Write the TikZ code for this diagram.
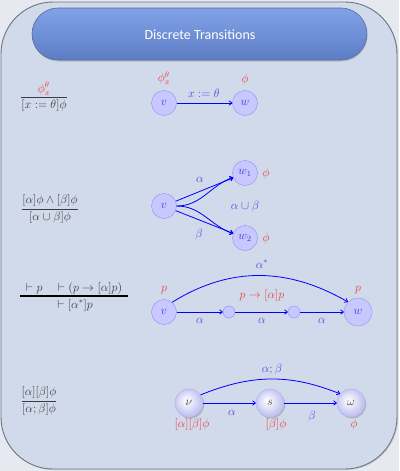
\documentclass[tikz,border=0pt]{standalone}
\usepackage{amsmath}
\usepackage{fontspec}
\newfontfamily\titlefont{Carlito}
\usetikzlibrary{shadows,arrows.meta}
\definecolor{bgout}{HTML}{E6E9F0}
\definecolor{panelfill}{HTML}{D0DAEA}
\definecolor{panelline}{HTML}{6E7480}
\definecolor{titletop}{HTML}{82A2E8}
\definecolor{titlebot}{HTML}{5C7CC4}
\definecolor{titleline}{HTML}{5A6C98}
\definecolor{stfill}{HTML}{C8C8FF}
\definecolor{stdraw}{HTML}{8C8CFF}
\definecolor{sttext}{HTML}{3A3AE0}
\definecolor{lblue}{HTML}{4A4AE6}
\definecolor{lred}{HTML}{F03C3C}
\definecolor{frmcol}{HTML}{3C3C3C}
\definecolor{ballmid}{HTML}{E8E8FA}
\definecolor{ballout}{HTML}{C4C4F0}
\pgfdeclareradialshading{softball}{\pgfpoint{-5bp}{5bp}}{%
  color(0bp)=(white); color(10bp)=(ballmid); color(24bp)=(ballout); color(50bp)=(ballout)}
\tikzset{
  mfont/.style={font=\fontsize{12}{14}\selectfont},
  st/.style={circle, fill=stfill, draw=stdraw, minimum size=25pt, inner sep=0pt, text=sttext, mfont},
  smallst/.style={circle, fill=stfill, draw=stdraw, minimum size=12pt, inner sep=0pt},
  ballst/.style={circle, shading=softball, draw=stdraw!70, minimum size=28pt, inner sep=0pt, text=frmcol, mfont,
    drop shadow={shadow xshift=1.2pt, shadow yshift=-1.5pt, opacity=0.4}},
  edge/.style={draw=blue, line width=0.8pt, -{To[length=3.5pt,width=5pt]}},
  lbl/.style={text=lblue, mfont, inner sep=0pt},
  rlbl/.style={text=lred, mfont, inner sep=0pt},
  frm/.style={text=frmcol, mfont, inner sep=0pt},
}
\begin{document}
\begin{tikzpicture}[x=1pt,y=-1pt]
\useasboundingbox (0,0) rectangle (399,471);
\fill[bgout] (0,0) rectangle (399,471);
% panel
\draw[panelline, line width=0.9pt, fill=panelfill, rounded corners=52pt,
  drop shadow={shadow xshift=1pt, shadow yshift=-1pt, opacity=0.25}]
  (1,2) rectangle (397,469);
% title
\shade[top color=titletop, bottom color=titlebot, draw=titleline, line width=0.6pt,
  rounded corners=26pt, drop shadow={shadow xshift=0.5pt, shadow yshift=-1.5pt, opacity=0.35}]
  (32,8) rectangle (367,60);
\node[text=white, font=\titlefont\fontsize{14}{16}\selectfont] (title) at (200,35) {Discrete Transitions};

% ---------- Row 1 ----------
\node[frm] (f1) at (44,97) {$\dfrac{\textcolor{lred}{\phi^\theta_x}}{[x:=\theta]\phi}$};
\node[st] (v1) at (164,103) {$v$};
\node[st] (w1) at (245,103) {$w$};
\node[rlbl] (v1l) at (164,78) {$\phi^\theta_x$};
\node[rlbl] (w1l) at (245,79) {$\phi$};
\draw[edge] (v1) -- (w1);
\node[lbl] (e1l) at (204,93) {$x:=\theta$};

% ---------- Row 2 ----------
\node[frm] (f2) at (50,209) {$\dfrac{[\alpha]\phi\wedge[\beta]\phi}{[\alpha\cup\beta]\phi}$};
\node[st] (v2) at (164,206) {$v$};
\node[st] (w21) at (245,173) {$w_1$};
\node[st] (w22) at (245,238) {$w_2$};
\node[rlbl] (w21l) at (266,173) {$\phi$};
\node[rlbl] (w22l) at (266,238) {$\phi$};
\draw[edge] (v2) -- (w21);
\draw[edge] (v2) -- (w22);
\draw[edge] (v2.east) to[out=0,in=200] (w21.200);
\draw[edge] (v2.east) to[out=0,in=160] (w22.160);
\node[lbl] (a2) at (200,180) {$\alpha$};
\node[lbl] (b2) at (199,234) {$\beta$};
\node[lbl] (ab2) at (245,206) {$\alpha\cup\beta$};

% ---------- Row 3 ----------
\node[frm] (f3n) at (74,288) {$\vdash p\quad\vdash(p\to[\alpha]p)$};
\node[frm] (f3d) at (75,305) {$\vdash[\alpha^*]p$};
\draw[black, line width=1.5pt] (20,296) -- (128,296);
\node[st] (v3) at (164,312) {$v$};
\node[smallst] (s31) at (229,312) {};
\node[smallst] (s32) at (294,312) {};
\node[st, minimum size=28pt] (w3) at (358,312) {$w$};
\node[rlbl] (v3l) at (164,290) {$p$};
\node[rlbl] (w3l) at (358,290) {$p$};
\node[rlbl] (m3l) at (262,295) {$p\to[\alpha]p$};
\draw[edge] (v3) -- (s31);
\draw[edge] (s31) -- (s32);
\draw[edge] (s32) -- (w3);
\draw[edge] (v3.50) to[out=32,in=150] (w3.135);
\node[lbl] (a31) at (200,321) {$\alpha$};
\node[lbl] (a32) at (262,321) {$\alpha$};
\node[lbl] (a33) at (322,321) {$\alpha$};
\node[lbl] (as3) at (262,264) {$\alpha^*$};

% ---------- Row 4 ----------
\node[frm] (f4) at (39,401) {$\dfrac{[\alpha][\beta]\phi}{[\alpha;\beta]\phi}$};
\node[ballst] (n4) at (189,403) {$\nu$};
\node[ballst] (s4) at (270,403) {$s$};
\node[ballst] (o4) at (351,403) {$\omega$};
\node[rlbl] (n4l) at (192,424) {$[\alpha][\beta]\phi$};
\node[rlbl] (s4l) at (276,424) {$[\beta]\phi$};
\node[rlbl] (o4l) at (354,424) {$\phi$};
\draw[edge] (n4) -- (s4);
\draw[edge] (s4) -- (o4);
\draw[edge] (n4.35) to[out=22,in=158] (o4.140);
\node[lbl] (a4) at (232,413) {$\alpha$};
\node[lbl] (b4) at (312,416) {$\beta$};
\node[lbl] (ab4) at (272,369) {$\alpha;\beta$};
\end{tikzpicture}
\end{document}
